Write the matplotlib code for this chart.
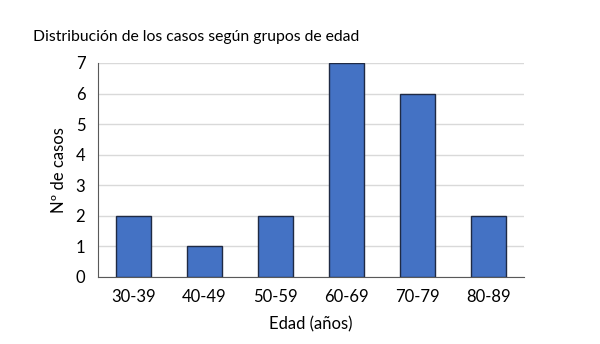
import matplotlib
matplotlib.use('Agg')
import matplotlib.pyplot as plt

grupos = ['30-39', '40-49', '50-59', '60-69', '70-79', '80-89']
casos = [2, 1, 2, 7, 6, 2]

plt.rcParams['font.family'] = ['Lato', 'DejaVu Sans']

fig = plt.figure(figsize=(6, 3.44), dpi=100)
ax = fig.add_axes([0.163, 0.195, 0.71, 0.622])

x = range(len(grupos))
ax.bar(x, casos, width=0.5, color='#4472C4', edgecolor='#1F2A44', linewidth=1, zorder=3)

ax.set_xlim(-0.5, len(grupos) - 0.5)
ax.set_ylim(0, 7)
ax.set_yticks(range(0, 8))
ax.set_xticks(list(x))
ax.set_xticklabels(grupos)
ax.grid(axis='y', color='#D9D9D9', linewidth=1, zorder=0)
ax.tick_params(length=0, labelsize=12, pad=9)

for s in ['top', 'right']:
    ax.spines[s].set_visible(False)
ax.spines['left'].set_color('#595959')
ax.spines['bottom'].set_color('#595959')

ax.set_xlabel('Edad (años)', fontsize=12, labelpad=8)
ax.set_ylabel('Nº de casos', fontsize=12, labelpad=6)
fig.text(0.055, 0.882, 'Distribución de los casos según grupos de edad', fontsize=11.3)

fig.savefig('out.png', dpi=100)
